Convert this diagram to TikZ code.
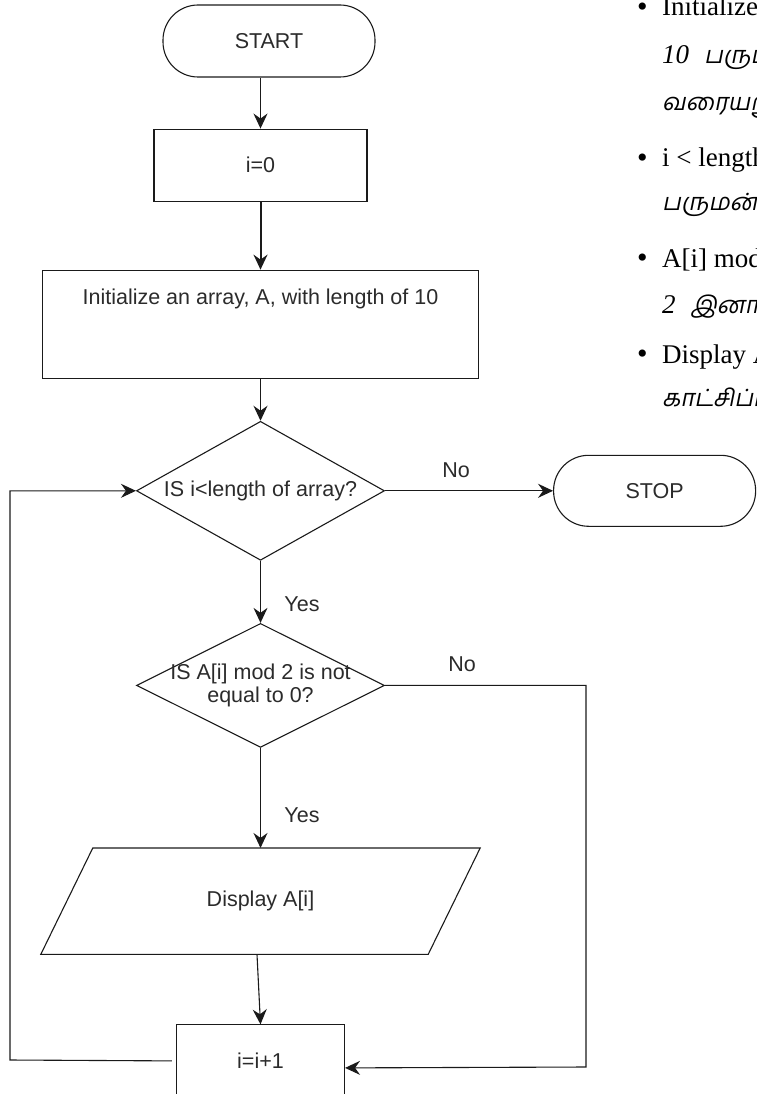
\documentclass[tikz,border=0pt]{standalone}
\usepackage{fontspec}
\setmainfont{Liberation Serif}
\newfontfamily\flowfont{Liberation Sans}
\newfontfamily\tamilfont[Script=Tamil,FakeSlant=0.2,Scale=0.88]{Hind Madurai}
\usetikzlibrary{arrows.meta,positioning,shapes.geometric}
\definecolor{LineBlack}{HTML}{1A1A1A}
\definecolor{TextGray}{HTML}{2B2B2B}
\newcommand{\notebullet}{\makebox[25pt][l]{\raisebox{-0.5pt}{\fontsize{30}{30}\selectfont\textbullet}}}

\begin{document}
\begin{tikzpicture}[
    x=1pt, y=-1pt,
    font=\flowfont\fontsize{21.5}{23.5}\selectfont,
    terminal/.style={rectangle, rounded corners=35pt, draw=LineBlack, line width=1.1pt, text=TextGray, minimum width=212pt, minimum height=72pt},
    proc/.style={rectangle, draw=LineBlack, line width=1.1pt, text=TextGray, minimum width=213pt, minimum height=72pt},
    decision/.style={diamond, aspect=1.78, draw=LineBlack, line width=1.1pt, text=TextGray, inner sep=0pt, minimum width=248pt, minimum height=139pt, align=center},
    iobox/.style={rectangle, text=TextGray, minimum width=387pt, minimum height=106pt},
    lbl/.style={text=TextGray, inner sep=0pt},
    note/.style={anchor=base west, inner sep=0pt, font=\rmfamily\fontsize{27}{30}\selectfont, text=black},
    arrow/.style={-{Stealth[length=15pt,width=14pt,inset=5pt]}, line width=1.1pt, draw=LineBlack}
]
\useasboundingbox (0,0) rectangle (756,1094);
\clip (0,0) rectangle (756,1094);

% flowchart
\node[terminal] (start) at (269,41) {START};
\node[proc, below=51pt of start, xshift=-8.5pt] (i0) {i=0};
\node[proc, below=68pt of i0, minimum width=436pt, minimum height=108pt,
      label={[lbl, yshift=25pt]center:Initialize an array, A, with length of 10}] (init) {};
\node[decision, below=42pt of init] (dec1) {IS i<length of array?};
\node[terminal, right=168pt of dec1, minimum width=202pt, minimum height=71pt] (stop) {STOP};
\node[decision, below=62pt of dec1, minimum height=124pt, aspect=2, inner sep=-10pt] (dec2) {IS A[i] mod 2 is not\\equal to 0?};
\node[iobox, below=100pt of dec2] (disp) {Display A[i]};
\draw[line width=1.1pt, draw=LineBlack] ([xshift=26pt]disp.north west) -- ([xshift=26pt]disp.north east)
  -- ([xshift=-26pt]disp.south east) -- ([xshift=-26pt]disp.south west) -- cycle;
\node[proc, below=70pt of disp, minimum width=168pt] (inc) {i=i+1};

\node[lbl] (no1) at (456,470) {No};
\node[lbl] (yes1) at (302,604) {Yes};
\node[lbl] (no2) at (462,664) {No};
\node[lbl] (yes2) at (302,815) {Yes};

\coordinate (loopL) at (10,1060);
\coordinate (loopR) at (586,1067);

\draw[arrow] (start.south -| i0.north) -- (i0.north);
\draw[arrow, line width=2pt] (i0) -- (init);
\draw[arrow] (init) -- (dec1);
\draw[arrow] (dec1.east) -- (stop.west);
\draw[arrow] (dec1) -- (dec2);
\draw[arrow] (dec2) -- (disp);
\draw[arrow] ([xshift=-3.5pt]disp.south) -- (inc.north);
\draw[arrow] (dec2.east) -| (loopR) -- ([yshift=-7pt]inc.east);
\draw[arrow] ([xshift=-4pt]inc.west) -- (loopL) |- (dec1.west);

% notes on the right
\node[note] (n1) at (637,16) {\notebullet Initialize an array, A, with length of 10};
\node[note] (n1a) at (662,64) {\itshape 10\hspace{15pt}\tamilfont பருமன் கொண்ட A எனும் அணியை};
\node[note] (n1b) at (662,111) {\tamilfont வரையறுக்கவும்};
\node[note] (n2) at (637,167) {\notebullet i < length of array?};
\node[note] (n2a) at (662,210) {\tamilfont பருமன்?};
\node[note] (n3) at (637,267) {\notebullet A[i] mod 2 is not equal to 0?};
\node[note] (n3a) at (662,313) {\itshape 2\hspace{15pt}\tamilfont இனால் வகுபடாதா?};
\node[note] (n4) at (637,363) {\notebullet Display A[i]};
\node[note] (n4a) at (662,406) {\tamilfont காட்சிப்படுத்துக};
\end{tikzpicture}
\end{document}
